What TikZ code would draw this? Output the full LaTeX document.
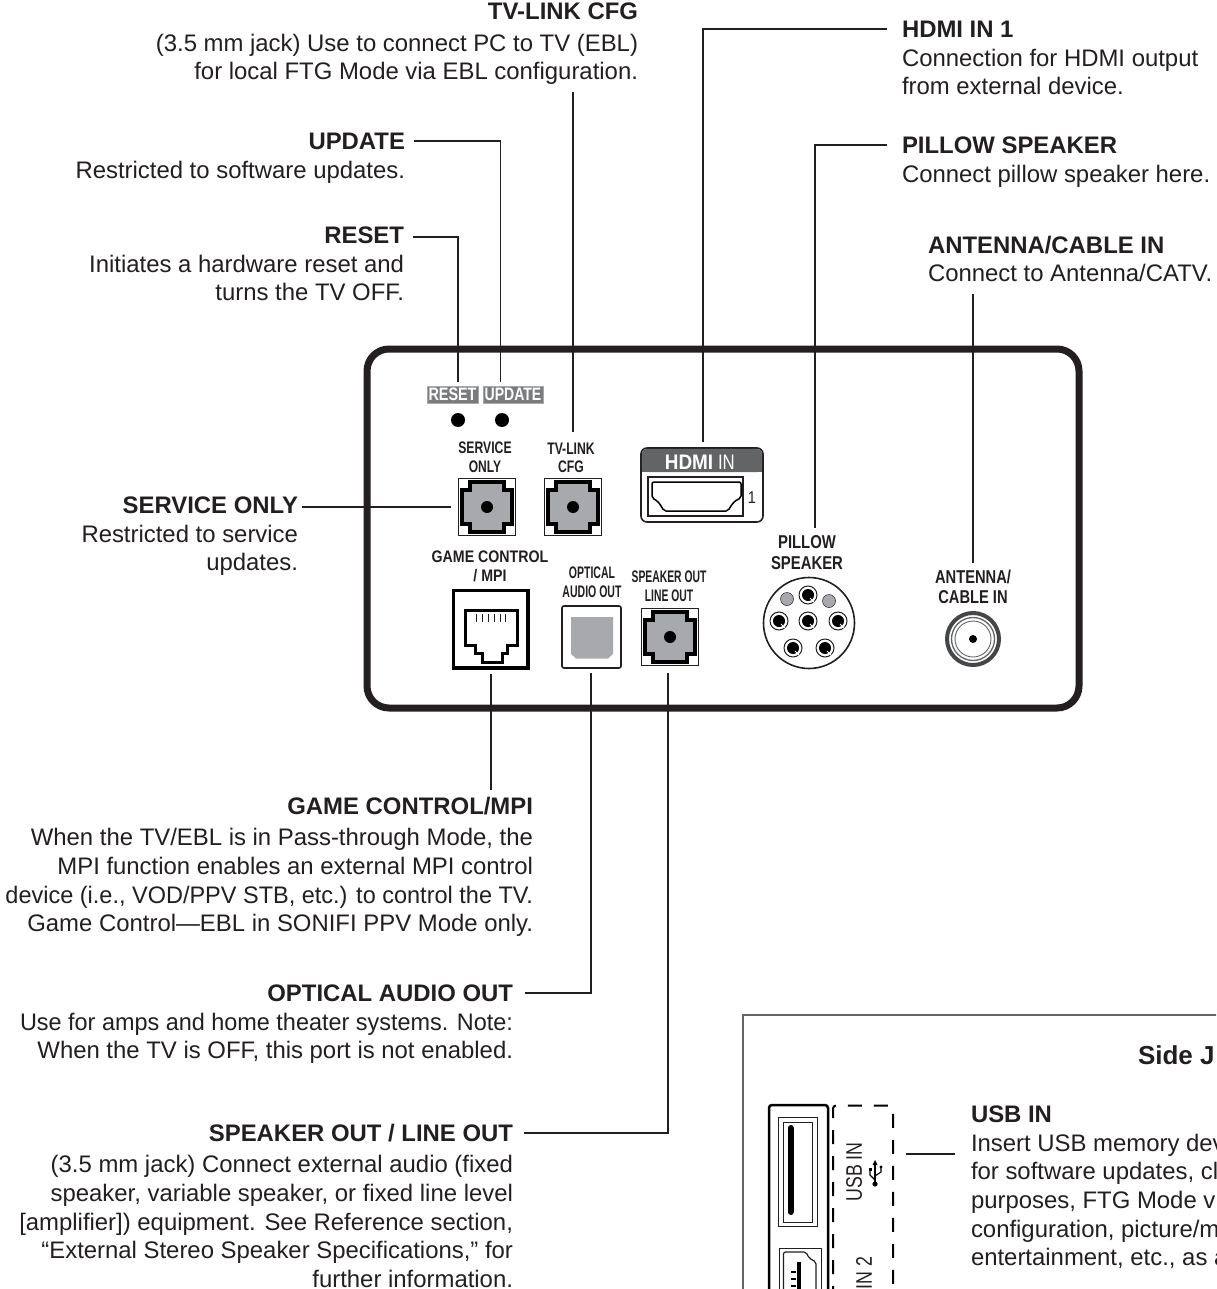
\documentclass[tikz,border=0pt]{standalone}
\usepackage{fontspec}
\usepackage{graphicx}
\setmainfont{Liberation Sans}
\definecolor{ink}{HTML}{231F20}
\definecolor{midgray}{HTML}{A7A9AC}
\definecolor{darkgray}{HTML}{636466}
\newcommand{\nar}[2]{\scalebox{#1}[1]{#2}}
\tikzset{
  x=1pt,y=-1pt,
  every node/.style={inner sep=0pt,outer sep=0pt,text=ink},
  bodyR/.style={anchor=north east,align=right,font=\fontsize{23.9}{28.6}\selectfont,execute at begin node=\strut},
  bodyL/.style={anchor=north west,align=left,font=\fontsize{23.9}{28.6}\selectfont,execute at begin node=\strut},
  lblS/.style={anchor=north,align=center,font=\fontsize{16.7}{18.5}\selectfont\bfseries,execute at begin node=\strut},
  lblB/.style={anchor=north,align=center,font=\fontsize{18.6}{20.5}\selectfont\bfseries,execute at begin node=\strut},
  tag/.style={fill=darkgray!85,draw=midgray,line width=.8pt,text=white,font=\fontsize{18}{18}\selectfont\bfseries,minimum height=17pt},
  conn/.style={draw=ink,line width=1.2pt},
  jackpic/.pic={
    \draw[ink,line width=1.5pt,fill=white] (-28.5,-28.5) rectangle (28.5,28.5);
    \draw[black,line width=3.5pt,fill=midgray,miter limit=10] (-17,-25)--(17,-25)--(17,-17)--(25,-17)--(25,17)--(17,17)--(17,25)--(-17,25)--(-17,17)--(-25,17)--(-25,-17)--(-17,-17)--cycle;
    \fill[black] (0,0) circle (6);
  },
  pinpic/.pic={
    \draw[ink,line width=1pt,fill=white] (0,0) circle (9);
    \fill[black] (0,0) circle (6);
    \draw[white,line width=.8pt] (2,3)--(7,8);
  },
}
\begin{document}
\begin{tikzpicture}
\useasboundingbox (0,0) rectangle (1216,1289);
\clip (0,0) rectangle (1216,1289);
\fill[white] (0,0) rectangle (1216,1289);

% main panel
\draw[ink,line width=7pt,rounded corners=22pt] (367,349) rectangle (1079,708);

% reset/update
\node[tag,minimum width=51pt] (tagreset) at (452.5,394.5) {\nar{.8}{RESET}};
\node[tag,minimum width=60pt] (tagupdate) at (513,394.5) {\nar{.78}{UPDATE}};
\fill[black] (458,420) circle (7);
\fill[black] (502,420) circle (7);

% jacks
\pic at (487,507) {jackpic};
\pic at (573,507) {jackpic};
\pic at (670,637) {jackpic};
\node[lblS] (lsvc) at (485,442) {\nar{.73}{SERVICE}\\\nar{.72}{ONLY}};
\node[lblS] (ltv) at (571,443) {\nar{.73}{TV-LINK}\\\nar{.73}{CFG}};
\node[lblS] (lgame) at (490,551) {\nar{.85}{GAME CONTROL}\\\nar{.85}{/ MPI}};
\node[lblS] (lopt) at (592,567) {\nar{.63}{OPTICAL}\\\nar{.63}{AUDIO OUT}};
\node[lblS] (lspk) at (669,571) {\nar{.62}{SPEAKER OUT}\\\nar{.62}{LINE OUT}};
\node[lblB] (lpil) at (807,536) {\nar{.8}{PILLOW}\\\nar{.8}{SPEAKER}};
\node[lblB] (lant) at (973,570) {\nar{.79}{ANTENNA/}\\\nar{.79}{CABLE IN}};

% HDMI
\draw[ink,line width=1.6pt,fill=white,rounded corners=6pt] (641,448) rectangle (763,522);
\fill[darkgray,rounded corners=5pt] (641.8,448.8) -- (762.2,448.8) -- (762.2,472) -- (641.8,472) -- cycle;
\fill[darkgray] (641.8,460) rectangle (762.2,472);
\node[anchor=base,text=white,font=\fontsize{21}{21}\selectfont\bfseries] (hdmiword) at (689,469) {\nar{.9}{HDMI}};
\node[anchor=base west,text=white,font=\fontsize{21}{21}\selectfont] (hdmiin) at (718,469) {\nar{.8}{IN}};
\draw[ink,line width=1.1pt] (648,477) rectangle (743,516);
\draw[black,line width=1.5pt,rounded corners=2pt] (652,482)--(741,482)--(741,498) .. controls (734,501) and (732,504) .. (728,511) -- (664,511) .. controls (660,504) and (658,501) .. (652,498) -- cycle;
\node[anchor=base,font=\fontsize{17}{17}\selectfont] (hdmione) at (752,503) {\nar{.85}{1}};

% game control RJ45
\draw[black,line width=3.5pt] (453.5,590.5) rectangle (528,668);
\draw[black,line width=3pt,line join=miter] (465,610.5)--(517,610.5)--(517,645)--(507,645)--(507,653)--(502,653)--(502,662)--(482,662)--(482,653)--(475,653)--(475,645)--(465,645)--cycle;
\foreach \px in {476,482,488,494,500,505} {\draw[ink,line width=.9pt] (\px,614)--(\px,622);}

% optical
\draw[ink,line width=1.6pt,rounded corners=2pt] (562,606) rectangle (621,668);
\fill[midgray] (571,617)--(613,617)--(613,654)--(608,658.5)--(576,658.5)--(571,654)--cycle;

% pillow
\draw[ink,line width=1.6pt] (809,623) circle (45.5);
\fill[midgray,draw=ink,line width=.5pt] (787,599) circle (6.5);
\fill[midgray,draw=ink,line width=.5pt] (829,601) circle (6.5);
\pic at (808,595) {pinpic};
\pic at (779,621) {pinpic};
\pic at (808,621) {pinpic};
\pic at (838,621) {pinpic};
\pic at (793,648) {pinpic};
\pic at (825,648) {pinpic};

% coax
\draw[darkgray!70!black,line width=4pt] (973,639) circle (26);
\draw[darkgray,line width=1.3pt] (973,639) circle (21.5);
\draw[darkgray,line width=.9pt] (973,639) circle (18);
\fill[black] (973,639) circle (4);

% text blocks
\node[bodyR] (ttv) at (638,3) {\textbf{TV-LINK CFG}\\[3pt](3.5 mm jack) Use to connect PC to TV (EBL)\\for local FTG Mode via EBL configuration.};
\node[bodyR] (tupd) at (405,133) {\textbf{UPDATE}\\Restricted to software updates.};
\node[bodyR] (trst) at (404,227) {\textbf{RESET}\\Initiates a hardware reset and\\turns the TV OFF.};
\node[bodyR] (tsvc) at (298,497) {\textbf{SERVICE ONLY}\\Restricted to service\\updates.};
\node[bodyR] (tgame) at (533,797) {\textbf{GAME CONTROL/MPI}\\[3pt]When the TV/EBL is in Pass-through Mode, the\\MPI function enables an external MPI control\\\nar{.983}{device (i.e., VOD/PPV STB, etc.) to control the TV.}\\Game Control—EBL in SONIFI PPV Mode only.};
\node[bodyR] (topt) at (513,985) {\textbf{OPTICAL AUDIO OUT}\\\nar{.98}{Use for amps and home theater systems. Note:}\\When the TV is OFF, this port is not enabled.};
\node[bodyR] (tspk) at (513,1124) {\textbf{SPEAKER OUT / LINE OUT}\\[3pt](3.5 mm jack) Connect external audio (fixed\\speaker, variable speaker, or fixed line level\\{[}amplifier]) equipment. See Reference section,\\“External Stereo Speaker Specifications,” for\\further information.};
\node[bodyL] (thd) at (902,21) {\textbf{HDMI IN 1}\\Connection for HDMI output\\from external device.};
\node[bodyL] (tpil) at (902,137) {\textbf{PILLOW SPEAKER}\\Connect pillow speaker here.};
\node[bodyL] (tant) at (928,236) {\textbf{ANTENNA/CABLE IN}\\Connect to Antenna/CATV.};

% connector ends
\coordinate (ptv) at (573,432);
\coordinate (ttvb) at (573,92);
\coordinate (updA) at (414,141);
\coordinate (updB) at (500.5,382);
\coordinate (rstA) at (413,237);
\coordinate (rstB) at (458,382);
\coordinate (hdA) at (887,29);
\coordinate (hdB) at (703,442);
\coordinate (pilA) at (887,145);
\coordinate (pilB) at (815,528);
\coordinate (antA) at (973,294);
\coordinate (antB) at (973,563);
\coordinate (svcA) at (302,507);
\coordinate (svcB) at (451,507);
\coordinate (gamA) at (491,674);
\coordinate (gamB) at (491,790);
\coordinate (optA) at (525,993);
\coordinate (optB) at (591,673);
\coordinate (spkA) at (524,1133);
\coordinate (spkB) at (668,673);
\draw[conn] (ttvb)--(ptv);
\draw[conn] (updA)-|(updB);
\draw[conn] (rstA)-|(rstB);
\draw[conn] (hdA)-|(hdB);
\draw[conn] (pilA)-|(pilB);
\draw[conn] (antA)--(antB);
\draw[conn] (svcA)--(svcB);
\draw[conn] (gamA)--(gamB);
\draw[conn] (optA)-|(optB);
\draw[conn] (spkA)-|(spkB);

% inset
\draw[darkgray,line width=1.3pt] (743,1300)--(743,1015)--(1230,1015);
\node[anchor=base west,font=\fontsize{26}{26}\selectfont\bfseries] (tside) at (1138,1064) {Side J};
\draw[black,line width=2.5pt,rounded corners=3pt] (769,1300)--(769,1105)--(828,1105)--(828,1300);
\draw[ink,line width=1pt] (778,1117) rectangle (817,1226);
\draw[ink,line width=1pt] (783,1122) rectangle (812,1222);
\draw[black,line width=6pt,line cap=round] (790.5,1128)--(790.5,1212);
\draw[ink,line width=1pt] (779,1300)--(779,1248)--(821,1248)--(821,1300);
\draw[ink,line width=1.2pt,rounded corners=2pt] (783.5,1300)--(783.5,1252)--(806,1252)--(809,1258)--(816,1262)--(816,1300);
\draw[black,line width=4pt] (799,1262)--(799,1300);
\foreach \py in {1272,1279,1286} {\draw[black,line width=2pt] (791,\py)--(796,\py);}
\draw[black,line width=2pt,dash pattern=on 14pt off 12pt,rounded corners=3pt] (833,1300)--(833,1105.5)--(893,1105.5)--(893,1300);
\node[rotate=90,font=\fontsize{22.5}{22.5}\selectfont] (tusbv) at (854,1172) {\nar{.79}{USB IN}};
\node[rotate=90,anchor=east,font=\fontsize{22.5}{22.5}\selectfont] (tin2) at (864,1257) {\nar{.79}{IN 2}};
% usb symbol
\draw[black,line width=1.2pt] (875,1163)--(875,1183);
\fill[black] (875,1160)--(872.5,1165)--(877.5,1165)--cycle;
\fill[black] (875,1184) circle (2.6);
\draw[black,line width=1.1pt] (875,1180)--(870,1175)--(870,1170);
\draw[black,line width=1.1pt] (875,1176)--(881,1172)--(881,1168);
\fill[black] (868.5,1168) rectangle (871.5,1171);
\fill[black] (881,1167) circle (1.7);
\coordinate (usbA) at (906,1154);
\coordinate (usbB) at (955,1154);
\draw[conn] (usbA)--(usbB);
\node[bodyL] (tusb) at (971,1106) {\textbf{USB IN}\\Insert USB memory dev\\for software updates, cl\\purposes, FTG Mode v\\configuration, picture/m\\entertainment, etc., as a};
\end{tikzpicture}
\end{document}
